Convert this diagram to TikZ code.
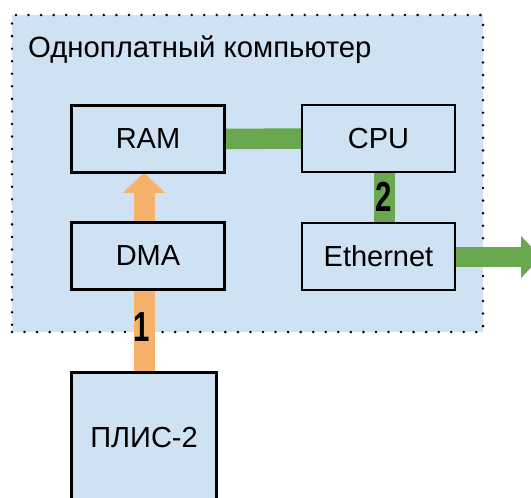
\documentclass[tikz,border=0pt]{standalone}
\usepackage{fontspec}
\setmainfont{Liberation Sans}
\usetikzlibrary{arrows.meta}
\definecolor{boxfill}{HTML}{CFE2F3}
\definecolor{busorange}{HTML}{F6B26B}
\definecolor{busgreen}{HTML}{6AA84F}

\begin{document}
\begin{tikzpicture}[x=1pt,y=-1pt,
  container/.style={fill=boxfill, draw=black, line width=2.8pt, line cap=round,
    dash pattern=on 0pt off 12.55pt, minimum width=471pt, minimum height=317pt, inner sep=0pt},
  unit/.style={draw=black, line width=1.6pt, fill=boxfill, minimum width=152pt,
    minimum height=66pt, inner sep=0pt, font=\fontsize{29}{33}\selectfont},
  orangebus/.style={draw=busorange, line width=21pt},
  greenbus/.style={draw=busgreen, line width=20.5pt},
  fatarrow/.style={-{Triangle[length=20pt,width=41pt]}},
  tag/.style={inner sep=0pt, font=\fontsize{42}{42}\selectfont\bfseries}
]
\useasboundingbox (0,0) rectangle (531,498);

% single-board computer area
\node[container] (board) at (247.5,173.5) {};
\node[anchor=base west, inner sep=0pt, font=\fontsize{29.3}{33}\selectfont] (title) at (28,57) {Одноплатный компьютер};

% functional blocks
\node[unit] (ram) at (148,139) {RAM};
\node[unit] (cpu) at (378.5,138.5) {CPU};
\node[unit] (dma) at (148,256) {DMA};
\node[unit] (eth) at (378.5,256.5) {Ethernet};
\node[unit, minimum width=144pt, minimum height=130pt] (plis) at (144,438) {ПЛИС-2};
\coordinate (out) at (541,257);

% buses
\path[orangebus] (plis.north) -- (dma.south -| plis.north);
\path[orangebus, fatarrow] (dma.north -| plis.north) -- (ram.south -| plis.north);
\path[greenbus] (ram.east) -- (cpu.west);
\path[greenbus] ([xshift=6pt]cpu.south) -- ([xshift=6pt]eth.north);
\path[greenbus, fatarrow] (eth.east |- out) -- (out);

% redraw the block outlines over the bus ends
\foreach \n in {ram,cpu,dma,eth,plis}
  \draw[line width=1.6pt] (\n.north west) rectangle (\n.south east);

% transfer step numbers
\node[tag] (one) at (141.5,327.5) {\scalebox{0.7}[1]{1}};
\node[tag] (two) at (383.5,197) {\scalebox{0.7}[1]{2}};
\end{tikzpicture}
\end{document}
